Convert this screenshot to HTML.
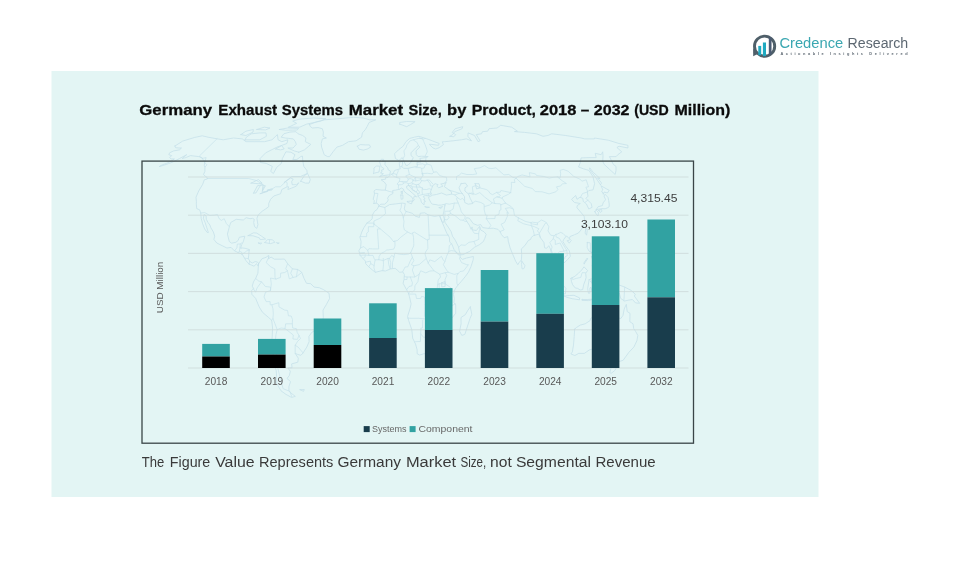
<!DOCTYPE html>
<html lang="en">
<head>
<meta charset="utf-8">
<title>Germany Exhaust Systems Market Size</title>
<style>
html,body{margin:0;padding:0;background:#ffffff;}
body{width:972px;height:572px;overflow:hidden;position:relative;font-family:"Liberation Sans",sans-serif;}
svg{position:absolute;left:0;top:0;display:block;}
text{font-family:"Liberation Sans",sans-serif;}
.t{font-weight:bold;fill:#0b0b0b;stroke:#0b0b0b;stroke-width:0.3px;font-size:15.5px;}
.f{fill:#3a3a3a;font-size:15.2px;}
.ax{fill:#585858;font-size:10.3px;}
.vl{fill:#3c3c3c;font-size:11.3px;}
.lg{fill:#686868;font-size:9.8px;}
</style>
</head>
<body>
<svg width="972" height="572" viewBox="0 0 972 572">
<rect x="51.5" y="71" width="767" height="426" fill="#e3f5f4"/>
<g id="worldmap" fill="none" stroke-linejoin="round" stroke-linecap="round">
<path d="M175.0,146.0L182.7,141.1L194.4,137.5L202.2,135.8L208.1,137.2L217.0,138.8L223.2,139.8L233.5,138.0L242.3,138.9L246.0,141.7L254.6,141.7L264.5,141.7L272.0,139.8L277.4,134.6L278.1,139.8L281.8,141.7L287.9,139.8L286.9,143.5L277.0,147.1L265.7,152.8L260.1,158.5L260.5,162.5L266.2,163.4L272.3,166.4L270.7,171.4L273.4,173.5L276.7,167.4L281.4,163.4L282.4,158.5L285.9,151.8L290.9,152.2L295.0,154.7L292.8,159.5L296.9,159.5L300.8,156.6L302.4,156.0L302.9,161.5L303.8,166.4L306.8,170.4L307.3,173.5L300.5,176.5L291.8,176.5L283.9,182.7L290.5,178.1L293.2,179.0L291.7,181.6L292.2,184.7L296.7,184.7L298.8,182.7L296.3,186.2L291.3,188.2L287.9,189.5L288.6,186.8L287.1,186.8L281.8,189.5L280.6,193.7L273.8,196.0L270.6,199.3L268.7,203.5L268.7,206.7L265.8,208.8L262.1,211.3L258.1,215.1L256.9,218.3L257.9,224.6L256.8,228.4L254.6,226.7L253.7,222.5L254.3,219.3L252.5,218.3L250.0,218.7L246.2,217.7L243.3,220.0L241.0,219.8L236.2,219.3L230.7,222.5L229.4,226.7L227.4,234.1L229.3,241.5L231.6,243.2L235.9,242.3L238.2,240.4L239.3,237.3L244.8,236.2L243.4,241.5L241.7,244.7L240.7,247.8L245.1,248.3L249.2,249.5L248.7,255.2L248.3,258.6L250.3,262.0L252.4,263.0L255.0,261.6L257.5,262.0L258.6,263.7L258.2,266.2L256.6,263.7L254.0,266.2L251.5,265.1L249.0,264.1L245.9,260.5L244.7,258.4L242.2,254.2L238.1,252.5L234.4,250.8L231.1,247.4L226.9,248.0L222.2,245.7L216.8,243.0L213.9,239.4L214.7,236.2L213.4,232.0L210.9,227.8L209.9,225.0L208.0,222.5L206.3,219.3L206.1,215.8L204.1,214.5L203.3,218.3L205.1,222.5L206.8,227.8L208.4,232.6L207.1,232.4L204.6,228.8L202.6,223.6L201.2,218.3L200.8,213.0L199.6,209.8L196.7,208.6L196.3,203.9L196.4,201.8L196.0,197.2L198.7,191.0L202.7,184.3L204.3,179.8L207.3,179.0L207.5,177.9L205.7,176.5L203.5,174.5L204.9,171.4L204.9,167.4L204.3,165.4L204.8,161.5L203.0,159.5L202.0,157.6L198.8,156.6L194.0,156.0L190.4,155.6L185.8,157.6L182.2,158.5L186.7,154.7L179.5,158.5L173.9,161.5L168.2,163.8L162.0,165.8L159.2,166.6L162.3,164.8L166.5,163.4L172.2,160.5L174.4,158.9L171.0,158.9L169.7,157.6L171.7,155.6L168.8,154.7L169.6,152.8L173.7,150.9L179.4,149.9L181.5,148.0L178.9,148.0L175.5,147.7L175.0,146.0Z M309.5,124.5L317.0,121.7L324.8,119.8L337.7,118.8L353.5,117.3L363.1,118.0L369.7,119.8L375.8,119.8L369.1,122.5L367.2,126.4L365.4,129.5L362.4,132.9L361.6,137.2L356.1,140.8L348.5,141.7L342.6,145.3L336.9,147.1L333.0,151.8L329.6,156.6L327.6,156.6L324.2,154.7L322.9,150.9L321.6,147.1L321.2,143.5L322.4,138.9L326.4,138.0L323.0,136.3L323.4,132.1L322.3,128.7L318.1,127.6L312.3,128.0L310.2,126.4L309.5,124.5Z M298.8,152.2L304.4,149.9L310.8,144.4L305.3,141.7L305.9,138.0L302.7,135.5L298.0,133.8L295.9,131.7L289.9,132.1L283.9,133.8L281.2,137.2L285.4,138.0L288.8,138.4L293.3,138.9L295.4,141.7L296.3,144.4L293.1,148.0L287.9,148.0L294.2,150.9L298.8,152.2Z M245.1,139.8L259.8,139.8L266.4,136.3L266.0,132.9L260.2,132.9L251.2,133.8L246.4,137.2L245.1,139.8Z M240.9,134.6L245.9,135.5L253.0,132.1L253.4,129.5L245.9,131.2L240.9,134.6Z M288.6,127.2L299.6,127.2L306.7,124.1L320.7,121.1L325.8,118.6L313.4,118.0L299.1,119.2L292.7,121.1L296.7,123.3L288.6,127.2Z M279.4,129.5L285.7,130.2L297.2,130.0L298.6,128.3L287.8,128.0L279.4,129.5Z M256.8,129.5L265.5,129.9L270.0,128.0L264.3,127.2L256.8,129.5Z M275.8,149.0L280.4,149.9L284.2,149.0L281.7,145.6L275.8,149.0Z M300.7,181.2L305.4,183.1L309.1,183.1L310.3,179.6L307.6,173.5L304.5,175.5L300.7,181.2Z M248.2,235.6L253.5,232.8L256.7,233.1L261.3,236.0L265.6,239.0L260.1,239.6L259.5,237.9L253.1,235.8L248.2,235.6Z M264.9,242.6L267.5,239.6L272.5,239.8L274.9,242.3L270.5,243.6L264.9,242.6Z M258.4,243.0L261.7,243.2L260.5,244.0L258.4,243.0Z M276.8,242.8L279.3,243.0L277.9,243.8L276.8,242.8Z M357.5,146.2L360.3,144.6L365.3,144.9L369.4,144.9L370.6,147.1L367.4,149.0L363.4,150.1L359.0,149.2L357.5,146.2Z M258.6,263.7L261.9,258.8L266.1,257.3L268.7,255.4L268.5,258.8L271.1,257.1L274.4,259.2L281.0,259.2L284.4,259.0L287.6,263.7L292.4,268.9L297.5,269.4L301.6,272.1L304.0,278.4L306.5,283.3L310.7,283.7L314.1,287.1L319.2,287.7L323.4,289.6L329.0,293.2L329.6,298.5L326.2,304.8L323.0,310.1L323.3,317.5L322.0,323.8L320.6,328.0L315.8,330.1L311.8,332.3L308.9,336.5L309.1,341.7L306.8,347.0L303.1,352.9L300.9,355.3L297.6,354.4L295.2,353.4L298.3,358.2L297.8,362.2L291.6,363.9L292.1,367.7L287.9,368.1L290.3,371.2L289.4,375.4L287.0,378.5L290.5,381.6L288.9,386.7L288.9,390.8L290.7,392.8L295.3,396.4L291.5,397.4L286.0,394.4L281.0,390.8L276.8,383.6L276.6,376.4L276.2,370.2L272.7,361.8L273.2,355.5L273.1,347.0L272.1,338.6L272.6,328.0L271.7,320.2L268.6,317.5L262.4,312.2L259.2,306.9L255.7,298.5L251.9,294.3L251.6,290.7L253.7,288.6L252.2,286.2L253.6,281.6L255.7,278.4L257.9,273.2L258.3,266.8L258.6,263.7Z M300.1,389.7L304.3,389.5L303.5,391.4L300.1,389.7Z M373.9,203.5L374.3,200.4L373.2,199.3L374.5,194.1L374.0,191.0L375.9,189.5L381.9,190.1L385.3,190.1L386.2,184.7L384.3,182.0L381.1,179.8L385.6,179.2L385.8,177.1L388.0,177.5L390.3,174.9L393.0,173.7L394.7,170.4L397.9,169.4L400.3,168.8L399.6,166.4L399.2,162.5L402.4,161.1L402.6,164.4L401.7,166.4L403.6,168.4L407.8,168.4L414.0,167.0L417.5,166.4L416.9,162.5L421.0,161.9L419.8,158.5L425.7,157.6L428.2,156.6L421.5,156.2L418.2,156.6L416.3,154.7L416.0,150.9L419.9,147.1L418.4,145.6L415.6,148.0L411.0,152.8L411.0,155.6L413.3,157.6L410.7,162.5L408.0,165.2L405.9,165.4L403.2,159.5L402.2,157.6L398.9,160.5L395.4,158.5L394.6,153.7L398.4,149.9L403.2,146.2L405.9,141.7L409.8,138.4L414.4,137.2L419.0,136.3L424.2,138.0L428.2,139.3L439.2,143.5L438.5,145.3L431.9,144.4L429.4,144.4L432.9,148.0L435.7,149.0L439.2,147.7L443.4,144.7L442.3,141.7L444.8,141.7L453.1,140.8L461.3,139.8L466.3,138.9L471.5,140.8L467.9,136.3L468.1,132.9L474.5,135.5L478.1,141.7L480.1,140.8L476.3,134.6L481.5,133.8L482.4,131.7L487.7,131.2L489.0,128.7L497.1,128.0L500.7,125.3L511.7,127.2L517.5,131.2L514.4,131.6L524.5,132.4L536.5,133.8L543.0,136.3L547.9,135.5L551.7,133.8L565.7,135.5L581.2,138.0L584.7,138.9L594.4,138.9L594.4,138.0L608.3,140.2L619.0,143.5L627.9,145.3L627.9,148.0L619.0,146.2L616.9,147.5L621.7,151.8L617.8,154.7L616.1,156.6L609.4,156.6L611.4,160.5L613.3,164.4L616.0,166.4L616.0,170.4L615.2,174.5L604.2,164.4L602.8,161.5L603.0,155.6L602.7,151.8L601.2,154.7L595.2,153.3L596.2,157.6L590.2,157.6L581.1,157.9L580.3,162.5L578.5,167.0L583.4,168.8L588.9,170.4L592.9,176.5L594.6,183.7L593.0,189.9L588.8,190.5L587.3,192.0L588.0,196.2L585.9,198.3L591.1,203.5L592.1,207.3L588.8,209.0L586.4,203.9L583.3,201.4L582.8,198.3L580.0,197.2L577.0,199.3L575.7,195.5L571.5,199.3L574.4,202.5L580.3,203.5L577.2,205.6L576.9,207.7L581.4,213.0L584.1,216.2L584.8,221.5L583.4,225.7L581.1,229.9L578.3,233.1L574.5,234.7L569.9,236.6L569.4,238.8L566.5,235.8L563.7,239.4L562.9,241.5L565.4,245.7L569.4,251.0L570.4,256.3L567.7,259.4L564.1,263.0L563.3,260.5L560.1,258.4L558.1,255.2L556.1,253.5L554.6,253.1L553.9,258.4L555.0,262.0L556.4,266.4L559.0,268.5L561.7,272.1L561.8,276.3L563.0,278.6L561.6,278.6L558.1,275.7L556.2,270.0L552.6,264.3L553.0,259.4L550.4,248.9L548.8,245.7L546.6,248.3L544.6,247.8L544.0,242.6L540.4,237.7L538.8,234.1L536.7,234.7L533.5,235.6L531.3,237.3L530.7,239.4L528.4,240.4L524.8,245.7L521.3,248.9L521.7,254.2L521.4,259.9L518.9,262.8L517.8,264.7L515.6,261.1L512.7,254.2L510.1,247.8L508.3,241.1L507.7,236.6L504.2,237.7L501.4,234.5L500.2,231.6L497.9,229.3L493.3,228.2L488.6,228.4L482.7,227.6L480.7,224.6L477.5,225.3L473.2,223.6L469.4,218.3L466.6,217.7L465.5,219.3L469.4,225.3L471.1,229.3L472.1,226.9L472.3,229.9L476.4,230.5L479.6,226.3L480.6,229.9L484.0,231.8L486.2,234.3L484.8,238.3L483.4,241.5L479.4,244.7L474.6,247.2L469.6,251.4L463.0,254.6L460.5,254.8L459.2,250.4L458.5,246.8L455.4,240.4L452.5,236.2L451.1,231.6L448.7,227.8L445.1,222.5L444.4,219.3L443.5,222.5L442.5,222.5L440.6,218.3L439.8,215.5L442.9,215.5L443.8,212.0L444.8,206.1L444.9,204.2L441.5,205.0L438.4,205.2L436.0,204.6L432.3,204.2L430.8,202.5L428.9,198.7L428.6,197.2L432.7,195.1L436.4,194.5L441.6,193.0L446.5,195.1L451.7,194.1L451.3,191.6L447.0,188.5L444.5,186.8L445.2,184.3L446.3,182.3L444.2,183.3L440.7,184.1L442.9,186.2L438.6,187.8L436.8,186.0L438.1,184.7L435.4,183.7L433.6,184.7L432.6,186.2L431.5,188.9L430.4,192.0L431.5,194.1L428.4,195.8L425.5,195.5L423.2,196.4L425.0,198.9L423.5,199.7L425.5,201.4L424.1,201.8L424.2,204.6L423.0,204.2L421.3,202.1L420.7,199.3L418.1,196.2L417.9,193.5L416.2,192.0L412.3,189.9L410.3,186.8L408.5,185.5L406.6,186.2L406.6,188.2L408.7,189.9L412.5,193.3L416.6,196.8L414.2,196.2L413.6,198.3L414.4,199.3L413.0,201.4L412.5,201.4L412.9,199.3L412.0,197.2L410.1,195.8L406.9,193.7L404.0,191.2L403.5,189.1L401.3,188.0L399.4,189.3L395.6,190.1L392.7,190.5L392.9,193.5L389.2,195.5L387.5,198.3L388.3,199.9L386.9,202.3L384.5,204.2L380.9,204.2L379.2,205.6L377.9,203.9L376.4,203.1L373.9,203.5Z M379.7,176.5L382.9,175.7L388.4,174.9L390.0,174.1L390.4,171.0L388.3,170.0L387.7,167.8L385.8,165.8L384.9,164.4L385.3,161.3L382.5,161.3L383.7,159.3L381.2,159.3L379.5,161.5L380.4,164.4L381.3,166.8L383.8,168.4L383.5,169.6L381.5,170.0L382.0,172.0L380.5,172.9L383.4,173.7L379.7,176.5Z M373.6,173.3L379.0,172.0L379.5,168.4L379.9,166.2L376.5,166.0L373.9,168.0L374.1,170.0L373.6,173.3Z M378.7,206.1L384.8,207.5L389.6,204.6L395.9,203.9L402.1,203.1L405.3,203.5L404.3,208.8L405.5,211.3L408.7,212.2L412.5,213.4L415.3,216.2L419.4,217.4L420.3,213.2L424.7,212.8L428.1,214.9L434.6,216.4L439.4,215.5L440.6,218.3L442.3,222.5L444.9,228.8L446.7,233.1L449.3,237.3L449.7,241.9L452.1,244.7L454.0,249.5L457.1,253.1L460.2,255.2L460.1,257.3L462.4,259.4L466.5,258.0L473.4,256.5L473.2,259.7L470.9,266.8L468.5,272.1L465.2,276.7L461.1,281.6L457.7,285.4L455.1,289.0L453.4,294.3L454.3,298.5L453.9,302.7L455.7,304.8L455.7,313.3L451.8,318.1L448.3,321.3L445.8,323.8L446.2,331.2L442.7,335.0L441.4,337.5L440.2,342.8L436.5,347.7L432.7,351.2L428.9,353.4L423.7,353.8L419.7,355.0L417.2,353.8L417.1,349.6L415.5,343.9L412.7,338.2L411.8,329.7L408.7,320.6L407.6,316.4L410.2,308.0L411.1,303.8L409.4,296.4L408.5,293.2L406.5,289.6L403.1,283.3L404.0,279.5L404.4,274.6L402.8,271.9L399.7,272.3L397.2,270.0L395.2,268.3L390.5,268.9L385.5,271.0L382.1,270.6L375.4,272.3L372.9,270.4L368.7,266.8L365.7,263.7L365.4,261.1L362.9,258.4L360.1,255.4L358.9,250.6L360.6,247.8L361.1,241.5L360.0,237.3L361.8,232.0L363.8,227.8L366.9,223.1L370.2,220.8L372.2,218.7L372.4,215.1L374.5,211.3L377.2,209.4L378.7,206.1Z M470.3,306.9L471.8,314.3L470.0,318.5L466.9,328.0L464.8,334.4L461.8,335.4L459.6,331.2L461.1,323.8L461.0,317.5L465.3,314.7L468.0,310.1L470.3,306.9Z M574.7,329.1L574.2,336.5L573.5,344.9L572.4,351.9L570.9,354.0L574.9,355.5L578.7,353.4L584.3,353.4L589.5,349.8L594.8,348.5L598.5,348.1L602.0,350.6L603.1,355.0L607.4,351.2L605.9,356.1L608.1,357.1L607.5,361.8L611.4,363.5L615.6,363.9L619.5,361.4L623.1,360.3L628.9,352.3L633.9,347.0L636.9,340.7L637.8,335.4L635.5,331.2L633.7,328.5L633.0,323.8L629.8,321.7L630.0,313.3L627.2,311.6L626.3,304.4L624.2,309.0L623.0,315.4L620.8,318.5L618.7,318.1L616.3,315.4L613.4,313.3L616.2,307.3L613.2,307.3L609.4,305.9L606.1,308.0L603.4,313.3L600.9,313.3L598.1,311.6L594.6,316.0L590.6,318.5L590.1,320.6L585.2,323.8L580.3,325.1L576.3,327.6L574.7,329.1Z M611.2,367.4L616.3,367.9L614.7,370.6L611.2,373.3L609.8,372.7L611.2,367.4Z M547.8,269.8L551.5,270.6L556.4,276.3L561.8,283.7L565.9,288.4L565.4,293.8L563.2,293.8L559.2,289.6L556.5,283.7L553.4,278.0L550.8,274.2L547.8,269.8Z M564.3,296.0L569.8,295.5L574.0,295.3L579.6,297.9L579.5,299.8L572.2,298.7L566.4,297.2L564.3,296.0Z M571.0,278.4L574.9,276.3L578.5,273.2L581.7,270.0L584.0,266.8L587.6,270.6L585.7,273.2L586.1,277.4L585.4,280.1L583.6,284.8L582.7,289.6L580.1,290.0L577.7,288.4L575.2,287.9L572.7,284.8L571.5,281.6L571.0,278.4Z M589.1,279.9L591.2,278.9L596.3,279.5L597.9,278.2L595.5,281.0L590.4,281.0L592.1,283.7L594.9,283.3L592.8,285.8L594.1,290.7L591.9,291.1L591.1,287.3L589.9,287.9L589.8,293.2L588.4,293.2L587.7,288.6L589.1,279.9Z M608.0,283.3L613.1,283.3L614.6,288.6L619.7,285.2L624.7,287.1L631.3,290.5L635.3,294.3L634.3,296.0L639.6,303.3L635.5,302.9L632.4,299.5L628.2,300.2L624.7,301.0L620.7,298.5L619.4,293.2L615.4,290.9L612.0,289.6L609.6,287.5L608.0,283.3Z M594.5,303.3L597.2,300.6L600.6,299.3L598.8,301.6L594.5,303.3Z M582.2,299.5L587.2,299.5L593.6,299.1L588.8,300.6L582.1,300.4L582.2,299.5Z M602.1,277.8L603.8,279.5L603.0,282.7L602.2,280.5L602.1,277.8Z M587.3,242.6L590.2,242.8L590.4,246.8L590.2,251.4L594.7,254.2L593.7,252.5L591.2,252.5L588.9,251.0L587.2,247.4L587.3,242.6Z M592.3,265.8L594.7,263.4L597.9,261.1L599.9,266.2L598.4,269.4L595.8,267.9L592.3,265.8Z M591.6,256.7L593.7,257.3L595.9,258.0L597.3,255.6L597.3,259.9L594.6,261.6L592.8,260.1L591.6,256.7Z M584.2,263.7L587.7,258.8L587.2,258.0L583.8,263.0L584.2,263.7Z M596.1,209.8L598.4,209.2L602.1,208.6L605.1,208.8L607.8,207.7L609.2,206.7L609.2,203.9L608.6,200.4L608.1,197.6L605.1,194.3L604.0,196.0L605.6,199.7L603.1,202.9L602.4,205.6L598.2,206.7L596.1,209.8Z M603.3,193.9L604.1,192.0L607.4,193.0L609.2,190.3L606.5,188.9L601.0,185.8L602.9,189.9L601.6,191.0L603.3,193.9Z M594.9,211.5L596.4,210.3L598.4,212.4L598.0,216.0L596.2,214.1L594.9,211.5Z M598.8,210.3L601.6,209.4L601.9,211.3L600.3,212.4L598.8,210.3Z M600.4,184.7L601.6,183.1L597.5,177.9L600.1,178.5L593.3,172.4L589.7,167.8L589.6,169.4L595.0,176.5L600.4,184.7Z M585.8,228.8L587.3,229.3L586.6,235.2L585.1,233.1L585.8,228.8Z M567.6,240.9L570.3,239.4L571.3,240.4L569.2,243.2L567.6,240.9Z M521.8,261.1L525.0,265.8L523.8,268.7L522.1,268.9L521.6,264.7L521.8,261.1Z M450.0,136.3L453.8,136.8L455.7,134.6L452.2,132.4L455.3,128.7L462.8,126.7L462.1,128.7L454.7,131.6L452.7,134.6L450.0,136.3Z M399.8,124.1L406.7,126.7L410.6,124.5L415.1,121.7L406.7,121.5L399.6,122.5L399.8,124.1Z M461.1,183.7L465.4,183.1L467.6,186.2L465.0,187.8L464.9,191.0L468.6,194.1L470.2,198.3L472.8,203.5L468.2,204.2L464.7,202.5L464.5,196.6L460.3,191.0L459.0,187.8L461.1,183.7Z M475.2,183.7L479.0,183.7L480.1,187.8L476.6,188.9L475.2,183.7Z M407.5,201.4L412.2,201.0L411.6,203.9L407.6,202.3L407.5,201.4Z M400.8,195.1L402.9,195.1L402.9,198.9L401.2,199.3L400.8,195.1Z M401.3,191.8L402.5,191.0L402.4,194.1L401.3,193.5L401.3,191.8Z M425.1,206.7L429.5,207.3L426.8,207.7L425.1,206.7Z M439.2,207.7L442.5,206.5L441.1,208.4L439.2,207.7Z M441.8,282.7L445.1,281.6L445.1,286.5L441.7,286.9L441.8,282.7Z M251.1,183.1L258.4,179.6L262.2,183.1L258.3,183.7L251.1,183.1Z M253.6,193.0L255.9,193.0L260.7,185.1L262.9,185.1L262.4,191.0L265.4,185.8L262.3,184.7L257.4,185.8L253.6,193.0Z M260.2,193.7L267.6,191.4L267.3,189.9L272.5,188.9L271.8,190.1L267.8,190.7L260.2,193.7Z" fill="#e5f6f6" stroke="#c6e1ea" stroke-width="0.8"/>
<path d="M207.2,178.5L248.6,178.5L256.5,180.6L262.0,183.7L264.0,186.2L262.0,192.0L267.6,191.4L268.0,189.9L272.2,188.9L275.5,186.8L280.3,186.8L283.6,183.7L285.7,181.8L287.2,182.7L287.0,186.4 M217.0,138.8L199.4,156.0L201.8,158.5L206.1,157.6L204.7,162.5L206.9,164.8L205.3,166.8 M200.8,213.0L204.8,212.6L209.8,215.5L214.4,215.1L217.4,214.5L219.3,218.9L221.4,220.4L224.2,218.7L226.4,223.6L229.5,226.9 M234.6,250.8L236.9,247.8L237.3,244.0L240.3,244.0L241.9,242.8 M240.3,244.0L239.9,248.0L241.3,248.5 M238.1,252.5L239.4,251.2L239.9,248.0 M241.9,253.3L241.8,252.3L239.4,251.2 M241.8,254.2L244.8,252.5L246.6,251.0L249.6,249.9 M244.9,258.2L246.5,258.4L248.2,258.6 M249.2,264.5L249.5,261.3 M269.4,243.0L269.5,240.0 M269.0,256.7L266.2,262.6L270.7,266.8L274.8,268.9L275.0,277.4L275.8,279.1 M301.4,272.7L296.5,276.7L293.1,277.4L289.3,278.9L287.4,270.6L284.8,272.5L280.6,273.2L280.5,277.4L275.8,279.1L270.5,278.0L271.3,283.7L270.5,290.5L265.5,292.2L264.0,297.0L266.2,301.6L270.1,301.6L270.2,304.8L271.9,304.8L278.8,302.7L279.0,306.9L284.7,310.1L287.6,310.5L288.4,315.8L291.2,316.0L292.5,319.6L292.3,323.8L292.7,328.0L296.5,328.7L297.1,332.3L299.0,335.4L300.5,338.6L297.6,341.3L295.2,345.3L298.0,347.0L303.1,352.9 M277.2,329.7L276.0,334.4L275.3,340.7L275.5,347.0L276.7,353.4L276.6,359.7L277.3,366.0L279.3,374.3L281.6,382.6L283.1,388.7L289.9,391.4 M271.9,304.8L273.0,309.0L273.3,314.3L272.9,318.5L271.7,320.2 M272.9,318.5L275.0,323.8L277.2,329.7L281.1,328.0L285.0,328.5L285.7,323.8L292.3,323.8 M285.0,328.5L293.3,335.0L292.9,339.0L297.4,339.4L299.0,335.4 M295.2,345.3L295.2,353.4 M253.4,288.8L255.5,292.2L257.1,287.9L261.5,281.8L265.4,286.5L270.5,287.1L270.5,290.5 M255.7,278.6L258.7,281.0L261.5,281.8 M287.6,263.7L285.7,268.9L287.4,270.6 M292.4,268.9L290.7,273.2L293.1,277.4 M297.5,269.4L296.5,276.7 M290.1,392.0L291.7,396.6 M384.8,207.5L385.6,213.6L382.4,216.2L379.9,218.3L373.9,221.0L373.9,224.0 M366.9,223.1L373.9,223.1L373.8,226.7L368.4,226.7L368.3,232.0L366.7,233.1L366.6,236.6L360.0,236.6 M373.9,224.0L380.2,228.8L377.4,229.0L378.7,248.9L372.5,248.9L368.9,248.7L367.7,250.4 M360.6,247.8L363.9,246.6L367.7,250.4L369.0,255.4L365.2,255.0L360.1,255.4 M360.0,252.9L364.7,252.9L360.0,253.7 M362.9,258.4L365.1,256.9L365.2,255.0 M380.2,228.8L390.0,237.1L393.5,241.5L394.9,241.1L395.0,246.1L393.8,249.1L388.3,249.9L386.8,249.9L384.7,251.6L380.7,253.7L379.2,256.3L378.8,259.7 M393.5,241.5L397.6,240.4L400.4,237.5L407.7,232.0L404.4,229.9L403.5,226.1L404.0,221.5L403.3,217.9L402.4,214.1L399.9,210.3L401.1,207.7L401.5,203.7 M403.3,217.9L404.5,214.5L406.3,211.5 M428.1,214.9L429.3,239.4L427.6,239.4L427.6,240.4L414.2,232.0L412.6,233.1L411.3,233.9L407.7,232.0 M429.1,235.2L448.7,235.2 M412.6,233.1L413.5,237.3L413.8,243.6L413.7,245.9L410.7,252.7L408.8,254.0L403.8,254.6L399.7,254.2L394.8,253.1L394.0,256.9L392.5,262.6L392.5,268.1 M427.6,240.4L427.9,248.5L425.5,252.1L425.2,254.8L426.3,258.4L428.2,263.2L434.0,270.8 M410.7,252.7L411.7,255.2L412.4,257.3L410.1,261.3L407.8,266.8L405.1,267.0L402.8,271.5 M451.9,243.6L449.3,245.7L448.8,251.4L446.6,256.3L444.9,261.6L443.3,264.7L446.7,270.2L448.4,272.3L454.3,274.4L458.3,273.4L460.1,271.5L463.5,271.0L468.4,264.7L466.7,264.7L461.6,262.6L459.5,258.6L460.1,257.3 M448.8,251.4L451.2,250.6L454.6,251.0L458.7,255.2 M458.3,273.4L456.8,275.7L456.9,283.3L457.7,285.2 M453.8,291.5L451.1,287.9L445.1,283.7L445.1,279.5L446.8,275.3L445.7,273.8L445.1,272.7L448.4,272.3 M428.2,263.2L429.8,259.9L434.8,261.6L441.4,256.3L443.2,259.9L444.9,261.6 M439.7,274.2L445.1,272.7 M408.5,293.8L409.8,294.1L415.7,294.1L416.5,298.5L420.7,298.5L421.5,296.4L424.5,297.0L424.8,304.8L428.1,304.8L428.0,307.6L431.4,306.5L433.9,307.6L436.3,309.9L437.7,307.3L435.4,306.5L435.8,301.6L439.4,298.9L437.3,294.3L437.0,289.0L437.7,284.6L438.2,279.9L440.6,277.0L439.7,274.2L434.0,270.8L429.9,271.0L425.8,272.9L420.7,270.8L419.2,274.2L417.9,281.6L414.9,285.8L414.8,290.0L412.3,291.9L409.8,291.3L408.5,293.8 M407.6,318.1L411.2,318.3L418.7,318.3L426.1,319.0L429.7,319.2 M424.8,304.8L424.7,309.0L424.5,315.8L426.1,319.0 M422.7,320.2L422.5,328.0L420.9,328.0L420.7,333.9L420.4,341.5L415.5,341.7L414.7,342.0 M420.7,333.9L423.8,337.5L428.8,335.8L432.2,331.6L436.3,328.5 M429.7,319.2L432.7,319.6L436.3,328.5L439.4,328.9L441.5,325.9L442.5,322.8L442.6,316.8L438.5,314.7L436.0,315.4L432.7,319.6 M439.4,328.9L440.4,333.3L439.9,338.2L441.5,338.2 M455.5,303.8L450.6,306.3L446.3,305.9L445.4,312.0L447.6,316.4L446.5,317.9L445.1,315.8L442.9,311.1L438.5,314.7 M439.4,298.9L443.0,301.4L444.9,301.6L446.3,305.9 M437.7,284.6L439.2,283.7L445.1,283.7 M437.3,294.3L437.7,290.9L439.2,287.9L439.2,283.7 M382.8,270.8L383.5,264.7L383.3,260.5L383.3,258.4 M390.0,268.7L388.8,264.7L388.0,258.4 M390.7,268.5L390.7,262.6L389.5,258.4 M378.8,259.7L383.3,260.5L388.0,258.4L389.5,258.4L391.7,255.4L394.0,256.9 M375.4,272.3L373.9,267.9L374.1,265.6L375.1,259.9L378.8,259.7 M375.1,259.9L374.1,258.4L373.0,255.4L369.0,255.4 M368.7,266.8L370.8,263.7L370.3,261.1L365.7,262.2 M370.8,263.7L374.1,265.6 M412.4,257.3L413.9,260.5L411.4,264.7L414.0,265.8L412.3,270.0L414.9,277.0L410.3,277.0L407.0,277.0L404.5,276.7 M410.3,277.0L412.4,282.7L412.0,285.8L409.0,286.5L406.6,289.8 M414.0,265.8L419.1,264.7L426.3,258.4 M414.9,277.0L419.2,274.2 M407.0,277.0L407.0,279.5L404.5,279.5 M431.7,341.7L434.9,342.2L435.3,344.9L433.1,346.2L431.6,344.3L431.7,341.7 M374.5,193.3L378.0,193.5L377.2,197.2L376.2,203.1 M385.3,190.1L389.1,191.4L392.7,192.2 M391.6,174.3L394.1,176.5L396.8,177.5L400.0,178.5L399.3,181.4L397.0,184.1L398.5,184.9L398.3,188.2L399.4,189.3 M392.9,173.7L394.2,173.7L396.7,174.5L396.7,176.1L396.8,177.5 M398.2,169.8L398.0,171.8L396.7,174.5 M399.3,181.4L402.2,181.6L403.6,182.9L403.5,183.7L401.5,184.7L398.5,184.9 M402.2,181.6L407.3,181.6L408.3,179.2L405.7,175.9L409.4,174.5L408.1,168.6 M400.2,166.6L401.9,166.8 M403.6,182.9L406.1,182.7L408.4,183.7L408.5,185.5 M408.3,179.2L410.0,178.5L412.9,179.4L413.1,180.6L411.9,182.9L408.4,183.7 M409.4,174.5L412.4,175.9L415.5,177.5L413.1,180.6 M415.5,177.5L421.1,178.3L422.9,175.5L421.8,171.4L421.8,168.4L420.1,167.6L415.9,167.6 M415.5,177.5L415.8,181.0L413.1,180.6 M415.8,181.0L420.7,179.8L421.1,178.3 M411.9,182.9L412.8,183.7L416.3,184.9L418.3,184.3L419.6,183.9L421.8,180.6L420.7,179.8 M408.5,185.5L411.0,185.8L412.8,183.7 M411.0,185.8L412.1,186.8L416.6,187.0L416.4,184.9 M412.1,186.8L412.8,189.9L414.8,191.0 M416.6,187.0L417.6,189.9L416.2,192.0 M417.6,189.9L419.1,191.2L419.6,193.3L417.9,193.5 M416.6,187.0L420.3,187.2L422.3,187.8L422.1,191.4L422.4,194.5L419.7,195.3L418.1,196.2 M422.4,194.5L425.6,194.1L428.3,193.7L428.4,195.8 M428.3,193.7L430.9,193.0 M422.3,187.8L422.7,189.3L426.7,189.5L429.2,188.7L431.4,189.5 M418.3,184.3L420.3,187.2 M421.8,180.6L425.0,181.0L427.2,180.0L430.1,183.7L430.3,185.8L432.6,186.2 M427.2,180.0L429.3,180.0L432.8,183.9 M422.9,175.5L422.5,173.1L422.0,173.5 M422.0,173.5L427.6,173.3L432.2,173.9L433.6,172.2L436.7,171.8L439.6,175.5L443.4,176.7L446.5,177.3L446.8,180.8L444.8,182.5 M421.8,168.4L424.1,168.0L425.1,165.0L427.1,164.0L431.1,165.2L432.7,170.0L433.6,172.2 M417.2,164.4L422.7,163.8L425.1,165.0 M421.3,160.9L425.6,161.5L427.1,164.0 M425.6,161.5L426.0,157.7 M425.4,155.6L427.3,151.8L426.7,149.0L425.0,144.4L423.8,141.7L422.5,138.6L419.4,138.2 M418.4,145.6L417.2,142.6L413.2,139.8L419.4,138.2L423.3,139.1L425.3,138.4 M403.2,158.5L404.7,155.6L403.9,150.9L406.0,148.0L406.9,144.9L410.1,140.8L413.2,139.8 M444.8,206.1L445.6,203.5L449.3,204.2L454.3,203.1L458.3,203.1L456.3,198.5L457.5,197.8L454.9,194.9L451.7,194.1 M457.5,197.8L460.4,199.5L462.5,198.3L464.3,200.6 M454.9,194.9L459.2,193.3L462.5,193.5 M448.8,190.1L454.3,191.6L459.2,193.3 M444.9,211.3L449.8,211.1L453.1,209.0L454.3,203.1 M449.8,211.1L450.7,213.6L447.4,215.1L449.2,217.2L447.0,220.0L444.5,219.3 M450.7,213.6L455.5,216.0L460.2,220.0L463.2,220.2L465.2,221.5L466.4,221.5 M463.2,220.2L464.9,218.3L465.1,216.2L461.4,212.0L460.1,207.7L458.3,203.1 M443.1,215.5L444.4,219.3 M444.9,212.6L445.0,215.3L444.5,219.3 M472.3,229.9L472.5,230.7L474.3,233.3L478.6,233.7L479.2,230.9L479.7,229.3L479.9,227.6 M478.6,233.7L478.8,239.4L473.9,241.5L475.5,245.1 M473.9,241.5L469.0,242.3L465.1,245.3L460.9,244.9L459.7,246.4L459.0,247.0 M472.5,202.9L475.5,201.2L480.9,202.5L484.2,204.4L484.2,209.8L485.5,215.1L487.2,215.3L486.3,218.7L490.1,224.2L490.9,225.5L488.6,228.4 M486.3,218.7L495.0,218.5L495.1,215.8L499.0,214.3L499.4,210.5L501.0,209.8L500.7,204.8L505.5,203.1 M484.7,206.5L489.6,205.0L492.2,202.7L494.7,203.5L500.3,203.9L500.7,204.8 M469.2,193.0L473.3,194.5L472.3,186.8L475.9,185.5L480.2,188.0L486.4,189.5L488.6,191.0L489.9,193.3L492.6,194.7L495.5,193.0L496.5,192.4L500.3,192.2L500.9,190.5L510.7,192.6 M468.5,193.7L471.8,193.0L475.6,194.5L479.8,192.6L484.8,197.2L492.2,202.7 M494.7,203.5L493.4,198.9L497.0,196.8L502.2,198.3L505.5,203.1 M497.0,196.8L498.9,196.8L500.5,195.5L496.5,192.4 M502.2,198.3L502.5,197.0L508.4,194.3L510.7,192.6 M456.5,179.6L456.5,176.5L459.1,175.3L461.4,173.1L466.9,174.5L472.8,174.5L476.8,173.9L474.3,168.6L480.0,167.8L484.5,165.6L488.6,168.2L492.0,168.6L495.9,167.8L503.9,174.9L508.8,174.5L512.7,177.3L516.0,178.1 M516.0,178.1L514.3,179.8L515.0,182.5L511.2,182.3L511.5,185.8L510.7,192.6 M505.5,203.1L511.3,206.7L513.4,209.2L514.5,215.5L518.5,217.9 M516.0,178.1L524.8,186.4L532.4,188.5L535.2,191.6L542.1,191.8L549.1,193.9L555.9,191.8L557.9,189.5L556.5,186.8L560.7,186.0L562.2,183.9L566.4,183.5L562.0,180.6L557.4,176.9 M516.0,178.1L517.8,176.5L522.1,174.9L530.1,176.9L529.3,172.6L535.5,173.9L536.5,175.5L544.0,176.5L549.2,178.1L553.2,177.3L557.4,176.9L560.3,177.5L560.7,173.1L560.0,170.4L563.3,169.4L568.1,171.2L573.9,176.5L579.8,179.0L581.9,181.2L586.2,179.8L588.5,186.8L585.9,187.2L587.5,191.0L587.3,192.0 M580.5,197.2L582.5,193.5L584.1,193.0L587.3,192.0 M585.3,202.1L588.1,200.2 M518.5,217.9L517.8,220.8L523.6,223.8L531.4,225.7L530.9,222.7L525.6,221.5L518.5,217.9 M530.9,222.7L532.6,224.0L537.6,224.8L537.4,222.9L532.2,222.1L530.9,222.7 M537.4,222.9L541.5,220.0L545.6,221.9L546.5,222.9 M499.8,231.6L504.2,229.9L501.1,224.2L504.6,222.5L507.6,215.8L506.9,212.4L508.6,213.4L505.3,208.4L509.9,207.7L513.4,209.2 M534.4,235.6L533.3,230.3L531.4,225.7L534.4,226.7L538.9,228.8L537.4,230.9L539.4,233.1L540.4,237.7 M539.4,233.1L540.8,230.9L542.6,227.8L545.4,223.1L546.5,222.9L548.9,226.7L548.0,230.9L550.7,235.2L554.1,235.8L553.2,238.8L549.8,242.6L552.1,247.0L551.3,249.9L553.6,256.9L553.2,259.9 M554.1,235.8L555.9,234.3L557.2,234.1L560.7,232.4L563.1,233.5L565.7,236.2 M555.9,234.3L556.1,236.9L559.5,238.5L561.6,242.1L566.8,250.4L567.3,255.6L564.9,256.9L564.8,258.8L562.5,259.7 M553.2,238.8L555.3,240.4L555.3,244.5L558.0,243.6L560.1,243.0L561.9,246.8L563.6,249.9L563.7,251.2L566.8,250.4 M563.7,251.2L559.5,251.6L558.4,252.9L559.8,256.9 M555.8,267.9L557.5,269.6L559.2,268.5 M572.0,277.4L572.7,279.5L576.4,278.4L580.8,277.4L582.1,272.7L585.3,272.7 M624.7,287.1L623.9,300.8 M595.6,301.4L597.2,300.8L597.1,301.6" stroke="#c6e1ea" stroke-width="0.68"/>
</g>
<line x1="188" y1="177" x2="688.5" y2="177" stroke="#cdd9d9" stroke-width="0.8"/>
<line x1="188" y1="215.2" x2="688.5" y2="215.2" stroke="#cdd9d9" stroke-width="0.8"/>
<line x1="188" y1="253.4" x2="688.5" y2="253.4" stroke="#cdd9d9" stroke-width="0.8"/>
<line x1="188" y1="291.6" x2="688.5" y2="291.6" stroke="#cdd9d9" stroke-width="0.8"/>
<line x1="188" y1="329.8" x2="688.5" y2="329.8" stroke="#cdd9d9" stroke-width="0.8"/>
<line x1="188" y1="368" x2="688.5" y2="368" stroke="#cdd9d9" stroke-width="0.8"/>
<rect x="142" y="161.1" width="551.5" height="282.1" fill="none" stroke="#3a4547" stroke-width="1.3"/>
<rect x="202.2" y="343.9" width="27.6" height="12.60" fill="#31a2a2"/>
<rect x="202.2" y="356.5" width="27.6" height="11.50" fill="#000000"/>
<text class="ax" x="204.8" y="385" textLength="22.6" lengthAdjust="spacingAndGlyphs">2018</text>
<rect x="258.0" y="338.9" width="27.6" height="15.70" fill="#31a2a2"/>
<rect x="258.0" y="354.6" width="27.6" height="13.40" fill="#000000"/>
<text class="ax" x="260.6" y="385" textLength="22.6" lengthAdjust="spacingAndGlyphs">2019</text>
<rect x="313.7" y="318.5" width="27.6" height="26.50" fill="#31a2a2"/>
<rect x="313.7" y="345.0" width="27.6" height="23.00" fill="#000000"/>
<text class="ax" x="316.3" y="385" textLength="22.6" lengthAdjust="spacingAndGlyphs">2020</text>
<rect x="369.1" y="303.3" width="27.6" height="34.70" fill="#31a2a2"/>
<rect x="369.1" y="338.0" width="27.6" height="30.00" fill="#193d4c"/>
<text class="ax" x="371.7" y="385" textLength="22.6" lengthAdjust="spacingAndGlyphs">2021</text>
<rect x="424.9" y="288.1" width="27.6" height="41.90" fill="#31a2a2"/>
<rect x="424.9" y="330.0" width="27.6" height="38.00" fill="#193d4c"/>
<text class="ax" x="427.5" y="385" textLength="22.6" lengthAdjust="spacingAndGlyphs">2022</text>
<rect x="480.7" y="270.0" width="27.6" height="51.60" fill="#31a2a2"/>
<rect x="480.7" y="321.6" width="27.6" height="46.40" fill="#193d4c"/>
<text class="ax" x="483.3" y="385" textLength="22.6" lengthAdjust="spacingAndGlyphs">2023</text>
<rect x="536.3" y="253.2" width="27.6" height="60.60" fill="#31a2a2"/>
<rect x="536.3" y="313.8" width="27.6" height="54.20" fill="#193d4c"/>
<text class="ax" x="538.9" y="385" textLength="22.6" lengthAdjust="spacingAndGlyphs">2024</text>
<rect x="591.8" y="236.3" width="27.6" height="68.70" fill="#31a2a2"/>
<rect x="591.8" y="305.0" width="27.6" height="63.00" fill="#193d4c"/>
<text class="ax" x="594.4" y="385" textLength="22.6" lengthAdjust="spacingAndGlyphs">2025</text>
<rect x="647.4" y="219.5" width="27.6" height="77.80" fill="#31a2a2"/>
<rect x="647.4" y="297.3" width="27.6" height="70.70" fill="#193d4c"/>
<text class="ax" x="650.0" y="385" textLength="22.6" lengthAdjust="spacingAndGlyphs">2032</text>
<text class="vl" x="630.4" y="202.4" textLength="47" lengthAdjust="spacingAndGlyphs">4,315.45</text>
<text class="vl" x="580.9" y="228.3" textLength="47" lengthAdjust="spacingAndGlyphs">3,103.10</text>
<text class="ax" transform="translate(163,313.2) rotate(-90)" textLength="51.5" lengthAdjust="spacingAndGlyphs" style="font-size:9.6px">USD Million</text>
<rect x="363.7" y="426.1" width="6" height="6" fill="#193d4c"/>
<text class="lg" x="372" y="432.4" textLength="34.6" lengthAdjust="spacingAndGlyphs">Systems</text>
<rect x="409.6" y="426.1" width="6" height="6" fill="#31a2a2"/>
<text class="lg" x="418.5" y="432.4" textLength="54" lengthAdjust="spacingAndGlyphs">Component</text>
<text class="t" y="115"><tspan x="139.3" textLength="72.8" lengthAdjust="spacingAndGlyphs">Germany</tspan> <tspan x="218.3" textLength="58.8" lengthAdjust="spacingAndGlyphs">Exhaust</tspan> <tspan x="281.7" textLength="61.3" lengthAdjust="spacingAndGlyphs">Systems</tspan> <tspan x="348.7" textLength="54.4" lengthAdjust="spacingAndGlyphs">Market</tspan> <tspan x="408.4" textLength="33.3" lengthAdjust="spacingAndGlyphs">Size,</tspan> <tspan x="447.1" textLength="19.3" lengthAdjust="spacingAndGlyphs">by</tspan> <tspan x="471.8" textLength="64.1" lengthAdjust="spacingAndGlyphs">Product,</tspan> <tspan x="539.8" textLength="36.6" lengthAdjust="spacingAndGlyphs">2018</tspan> <tspan x="580.8" textLength="8.5" lengthAdjust="spacingAndGlyphs">–</tspan> <tspan x="593.8" textLength="35.7" lengthAdjust="spacingAndGlyphs">2032</tspan> <tspan x="634.2" textLength="34.6" lengthAdjust="spacingAndGlyphs">(USD</tspan> <tspan x="674.5" textLength="55.9" lengthAdjust="spacingAndGlyphs">Million)</tspan></text>
<text class="f" y="467"><tspan x="141.8" textLength="22.5" lengthAdjust="spacingAndGlyphs">The</tspan> <tspan x="169.8" textLength="40.5" lengthAdjust="spacingAndGlyphs">Figure</tspan> <tspan x="215.2" textLength="39.4" lengthAdjust="spacingAndGlyphs">Value</tspan> <tspan x="259.0" textLength="74.4" lengthAdjust="spacingAndGlyphs">Represents</tspan> <tspan x="337.4" textLength="63.6" lengthAdjust="spacingAndGlyphs">Germany</tspan> <tspan x="405.9" textLength="50.2" lengthAdjust="spacingAndGlyphs">Market</tspan> <tspan x="460.5" textLength="25.8" lengthAdjust="spacingAndGlyphs">Size,</tspan> <tspan x="490.1" textLength="21.7" lengthAdjust="spacingAndGlyphs">not</tspan> <tspan x="515.9" textLength="75.1" lengthAdjust="spacingAndGlyphs">Segmental</tspan> <tspan x="595.4" textLength="60.3" lengthAdjust="spacingAndGlyphs">Revenue</tspan></text>
<g id="logo">
<circle cx="764.6" cy="46.2" r="10.1" fill="none" stroke="#4f5f69" stroke-width="2.9"/>
<path d="M753.1,48.5 L753.2,56.2 L758,53.8 Z" fill="#4f5f69"/>
<rect x="758.3" y="45.9" width="2.9" height="9.3" fill="#1fa9c0"/>
<rect x="762.9" y="42.5" width="3.1" height="13.6" fill="#1fa9c0"/>
<rect x="768.8" y="37.3" width="2.7" height="17.3" fill="#4a5a72"/>
<text x="779.4" y="47.6" textLength="63.8" lengthAdjust="spacingAndGlyphs" style="font-size:15.1px" fill="#3aa7b1">Credence</text>
<text x="847.6" y="47.6" textLength="60.6" lengthAdjust="spacingAndGlyphs" style="font-size:15.1px" fill="#5d6872">Research</text>
<text x="780.4" y="55.1" textLength="127.2" lengthAdjust="spacing" style="font-size:3.9px;font-weight:bold" fill="#5d6872">Actionable Insights Delivered</text>
</g>
</svg>
</body>
</html>
